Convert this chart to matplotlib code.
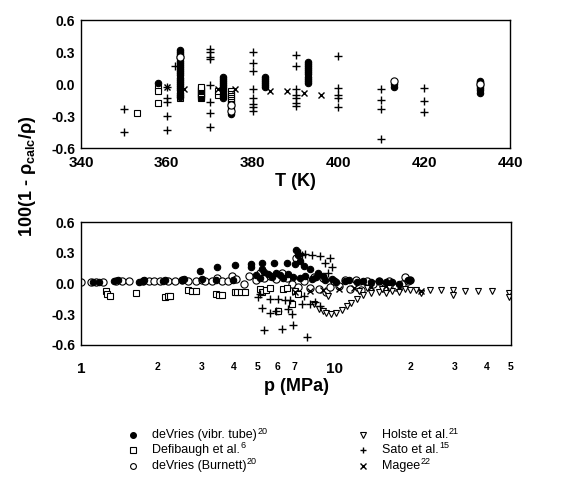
import matplotlib
matplotlib.use("Agg")
import matplotlib.pyplot as plt
from matplotlib.lines import Line2D
from matplotlib.ticker import FixedLocator

plt.rcParams['font.family'] = ['Liberation Sans', 'DejaVu Sans']
plt.rcParams['mathtext.default'] = 'regular'

# ---------------- top panel: deviation vs T ----------------
vib_T = [363]*23 + [358] + [373]*11 + [375] + [383]*6 + [393]*11 + [413]*2 + [433]*7
vib_dT = [-0.12, -0.10, -0.08, -0.06, -0.04, -0.02, 0.00, 0.02, 0.04, 0.06, 0.08, 0.10,
          0.12, 0.14, 0.16, 0.18, 0.20, 0.22, 0.24, 0.26, 0.28, 0.30, 0.32,
          0.01,
          -0.13, -0.11, -0.09, -0.07, -0.05, -0.03, -0.01, 0.01, 0.03, 0.05, 0.07,
          -0.28,
          -0.03, -0.01, 0.01, 0.03, 0.05, 0.07,
          0.01, 0.03, 0.05, 0.07, 0.09, 0.11, 0.13, 0.15, 0.17, 0.19, 0.21,
          -0.03, 0.00,
          -0.08, -0.06, -0.04, -0.02, 0.00, 0.02, 0.03]

def_T = [353, 358, 358, 358, 363] + [368]*11 + [372, 372] + [375]*9
def_dT = [-0.27, -0.04, -0.07, -0.18, -0.13,
          -0.13, -0.12, -0.11, -0.10, -0.09, -0.08, -0.07, -0.06, -0.05, -0.04, -0.03,
          -0.10, -0.07,
          -0.07, -0.09, -0.11, -0.13, -0.15, -0.17, -0.19, -0.21, -0.23]

bur_T = [363, 375, 375, 413, 433]
bur_dT = [0.25, -0.25, -0.20, 0.03, 0.00]

sato_T = [350, 350, 360, 360, 360, 360, 360, 362,
          370, 370, 370, 370, 370, 370, 370, 370,
          380, 380, 380, 380, 380, 380, 380, 380,
          390, 390, 390, 390, 390, 390, 390,
          400, 400, 400, 400, 400,
          410, 410, 410, 410,
          420, 420, 420]
sato_dT = [-0.23, -0.45, -0.03, -0.13, -0.17, -0.30, -0.43, 0.17,
           0.33, 0.30, 0.25, 0.23, -0.01, -0.17, -0.27, -0.40,
           0.30, 0.20, 0.12, -0.05, -0.13, -0.19, -0.22, -0.25,
           0.27, 0.17, -0.05, -0.10, -0.13, -0.18, -0.21,
           0.26, -0.04, -0.10, -0.13, -0.22,
           -0.05, -0.15, -0.23, -0.52,
           -0.04, -0.16, -0.26]

mag_T = [360, 364, 372, 376, 384, 388, 392, 396]
mag_dT = [-0.03, -0.05, -0.05, -0.05, -0.07, -0.07, -0.08, -0.10]

# ---------------- bottom panel: deviation vs p ----------------
bur_p = [1.0, 1.1, 1.15, 1.22, 1.38, 1.45, 1.55, 1.75, 1.85, 1.95, 2.05, 2.2, 2.35, 2.5,
         2.65, 2.85, 3.0, 3.1, 3.3, 3.45, 3.6, 3.8, 3.95, 4.1, 4.4, 4.6, 4.9, 5.1, 5.3,
         5.6, 5.9, 6.2, 6.5, 6.8, 7.1, 7.2, 7.6, 8.0, 8.3, 8.7, 9.0, 9.3, 9.6, 10.0,
         10.5, 11.0, 11.6, 12.2, 12.8, 13.5, 14.2, 15.0, 15.8, 16.5, 17.5, 18.5, 19.0,
         19.5, 20.0]
bur_dp = [0.01, 0.01, 0.01, 0.01, 0.02, 0.02, 0.02, 0.02, 0.02, 0.02, 0.02, 0.02, 0.02, 0.03,
          0.02, 0.02, 0.03, 0.02, 0.02, 0.05, 0.02, 0.02, 0.07, 0.04, 0.00, 0.07, 0.03, 0.10, 0.05,
          0.07, 0.04, 0.10, 0.05, 0.00, 0.25, -0.03, 0.02, -0.04, 0.06, -0.05, 0.05, -0.08, -0.03, 0.02,
          -0.02, 0.03, -0.05, 0.03, -0.06, 0.02, 0.00, 0.02, -0.04, 0.02, -0.03, 0.00, 0.06,
          0.02, 0.03]

vib_p = [1.12, 1.18, 1.35, 1.4, 1.7, 1.75, 1.78, 2.1, 2.15, 2.5, 2.55, 3.0, 3.4, 4.0,
         2.95, 3.45, 4.05, 4.7, 4.7, 5.2, 5.2, 5.8, 6.5, 7.0, 7.1, 7.2, 7.3, 7.6, 8.0, 8.6, 9.0,
         4.9, 5.1, 5.3, 5.5, 5.7, 5.9, 6.1, 6.3, 6.6, 6.9, 7.3, 7.7, 8.2, 8.5, 9.2, 9.8,
         10.2, 11.0, 11.5, 12.3, 13.0, 14.0, 15.0, 16.0, 17.0, 18.0, 19.5, 20.0, 6.0]
vib_dp = [0.01, 0.01, 0.02, 0.03, 0.01, 0.02, 0.03, 0.02, 0.03, 0.03, 0.04, 0.04, 0.03, 0.03,
          0.12, 0.16, 0.18, 0.19, 0.16, 0.20, 0.14, 0.20, 0.20, 0.19, 0.33, 0.28, 0.22, 0.17, 0.14, 0.10, 0.07,
          0.08, 0.05, 0.11, 0.09, 0.06, 0.10, 0.08, 0.05, 0.09, 0.06, 0.05, 0.07, 0.04, 0.06, 0.03, 0.04,
          0.01, 0.02, 0.03, 0.01, 0.02, 0.01, 0.02, 0.01, 0.01, 0.00, 0.03, 0.03, -0.27]

def_p = [1.25, 1.27, 1.3, 1.65, 2.15, 2.2, 2.25, 2.65, 2.75, 2.85, 3.4, 3.5, 3.6,
         4.05, 4.15, 4.3, 4.45, 5.1, 5.2, 5.4, 5.6, 6.0, 6.3, 6.5, 6.8, 7.0, 7.2]
def_dp = [-0.07, -0.10, -0.12, -0.09, -0.13, -0.12, -0.12, -0.06, -0.07, -0.07, -0.10, -0.11, -0.11,
          -0.08, -0.08, -0.08, -0.08, -0.05, -0.08, -0.06, -0.04, -0.27, -0.05, -0.04, -0.20, -0.07, -0.10]

hol_p = [8.3, 8.7, 9.0, 9.3, 9.7, 10.2, 10.7, 11.2, 11.7, 12.3, 13.0, 14.0, 15.0, 16.0,
         17.0, 18.0, 19.0, 20.0, 21.0, 22.0, 24.0, 26.5, 29.5, 29.5, 33.0, 37.0, 42.0, 49.0, 49.0,
         9.5, 12.5, 13.5, 15.5, 16.5]
hol_dp = [-0.20, -0.25, -0.27, -0.29, -0.30, -0.29, -0.26, -0.22, -0.19, -0.15, -0.11, -0.09, -0.08, -0.09,
          -0.07, -0.08, -0.05, -0.06, -0.06, -0.09, -0.06, -0.06, -0.06, -0.11, -0.07, -0.07, -0.07, -0.09, -0.13,
          -0.12, -0.07, -0.04, -0.05, -0.04]

sato_p = [5.0, 5.1, 5.2, 5.3, 5.6, 5.6, 5.9, 6.0, 6.2, 6.4, 6.6, 6.7, 6.8, 6.9, 7.5, 7.6,
          7.8, 8.0, 8.4, 8.8, 7.3, 7.5, 7.7, 8.2, 8.8, 9.2, 9.6, 9.8, 9.5]
sato_dp = [-0.13, -0.10, -0.24, -0.45, -0.29, -0.15, -0.27, -0.15, -0.44, -0.16, -0.25, -0.16, -0.30, -0.40, -0.20, -0.12,
           -0.52, -0.20, -0.18, -0.22, 0.30, 0.28, 0.29, 0.28, 0.27, 0.20, 0.25, 0.16, 0.10]

mag_p = [7.0, 8.0, 9.0, 10.5, 12.0, 13.0, 14.0, 16.0, 18.0, 22.0]
mag_dp = [-0.08, -0.07, -0.06, -0.05, -0.04, 0.01, -0.03, -0.02, -0.03, -0.07]

y_ticks = [-0.6, -0.3, 0.0, 0.3, 0.6]
y_ticklabels = ['-0.6', '-0.3', '0.0', '0.3', '0.6']
T_ticks = [340, 360, 380, 400, 420, 440]
p_major = [1, 10]
p_minor = [2, 3, 4, 5, 6, 7, 20, 30, 40, 50]
p_minor_labels = ['2', '3', '4', '5', '6', '7', '2', '3', '4', '5']

label_names = ['deVries (vibr. tube)', 'Defibaugh et al.', 'deVries (Burnett)',
               'Holste et al.', 'Sato et al.', 'Magee']
label_refs = ['20', '6', '20', '21', '15', '22']

# ---------------- styles ----------------
ms = 4.6
st_vib = dict(marker='o', ms=ms, mfc='black', mec='black', mew=0.8, ls='none')
st_def = dict(marker='s', ms=ms, mfc='white', mec='black', mew=0.8, ls='none')
st_bur = dict(marker='o', ms=ms + 0.6, mfc='white', mec='black', mew=0.8, ls='none')
st_hol = dict(marker='v', ms=ms, mfc='white', mec='black', mew=0.8, ls='none')
st_sato = dict(marker='+', ms=ms + 1, mec='black', mew=1.0, ls='none')
st_mag = dict(marker='x', ms=ms, mec='black', mew=1.0, ls='none')
styles = [st_vib, st_def, st_bur, st_hol, st_sato, st_mag]

fig = plt.figure(figsize=(5.84, 4.79), dpi=100)
ax1 = fig.add_axes([81/584, 1 - 148/479, 429/584, 128/479])
ax2 = fig.add_axes([81/584, 1 - 345/479, 430/584, 123/479])

# top
ax1.plot(def_T, def_dT, **st_def)
ax1.plot(vib_T, vib_dT, **st_vib)
ax1.plot(bur_T, bur_dT, **st_bur)
ax1.plot(sato_T, sato_dT, **st_sato)
ax1.plot(mag_T, mag_dT, **st_mag)
ax1.set_xlim(340, 440)
ax1.set_ylim(-0.6, 0.6)
ax1.set_xticks(T_ticks)
ax1.set_xticklabels([str(t) for t in T_ticks])
ax1.set_xlabel('T (K)', fontsize=13, fontweight='bold', labelpad=2)

# bottom
ax2.plot(bur_p, bur_dp, **st_bur)
ax2.plot(vib_p, vib_dp, **st_vib)
ax2.plot(def_p, def_dp, **st_def)
ax2.plot(hol_p, hol_dp, **st_hol)
ax2.plot(sato_p, sato_dp, **st_sato)
ax2.plot(mag_p, mag_dp, **st_mag)
ax2.set_xscale('log')
ax2.set_xlim(1, 50)
ax2.set_ylim(-0.6, 0.6)
ax2.xaxis.set_major_locator(FixedLocator(p_major))
ax2.xaxis.set_minor_locator(FixedLocator(p_minor))
ax2.set_xticklabels([str(v) for v in p_major], fontsize=11, fontweight='bold')
ax2.set_xticklabels(p_minor_labels, minor=True, fontsize=7.5, fontweight='bold')
ax2.set_xlabel('p (MPa)', fontsize=13, fontweight='bold', labelpad=2)

for ax in (ax1, ax2):
    ax.set_yticks(y_ticks)
    ax.set_yticklabels(y_ticklabels)
    ax.tick_params(axis='both', which='both', length=0)
    ax.tick_params(axis='y', pad=4, labelsize=10)
    for lab in ax.get_yticklabels():
        lab.set_fontweight('bold')
    for sp in ax.spines.values():
        sp.set_linewidth(1.0)
ax1.tick_params(axis='x', pad=6, labelsize=11)
for lab in ax1.get_xticklabels():
    lab.set_fontweight('bold')
ax2.tick_params(axis='x', which='both', pad=12)

fig.text(28/584, 1 - 176/479, r'100(1 - $\rho_{calc}/\rho$)', rotation=90,
         ha='center', va='center', fontsize=13, fontweight='bold')

# legend (two columns, drawn in figure coordinates)
col_x = [(133, 152), (363, 382)]
row_y = [435, 450, 466]
fig.canvas.draw()
for i, (name, ref, st) in enumerate(zip(label_names, label_refs, styles)):
    mx, tx = col_x[i // 3]
    yy = 1 - row_y[i % 3] / 479
    s = dict(st)
    s['ms'] = 4.2
    fig.add_artist(Line2D([mx / 584], [yy], transform=fig.transFigure, **s))
    t = fig.text(tx / 584, yy, name, ha='left', va='center', fontsize=9)
    bb = t.get_window_extent(renderer=fig.canvas.get_renderer())
    fig.text((bb.x1 + 0.5) / 584, yy + 4 / 479, ref, ha='left', va='center', fontsize=6.5)

fig.savefig('out.png', dpi=100)
